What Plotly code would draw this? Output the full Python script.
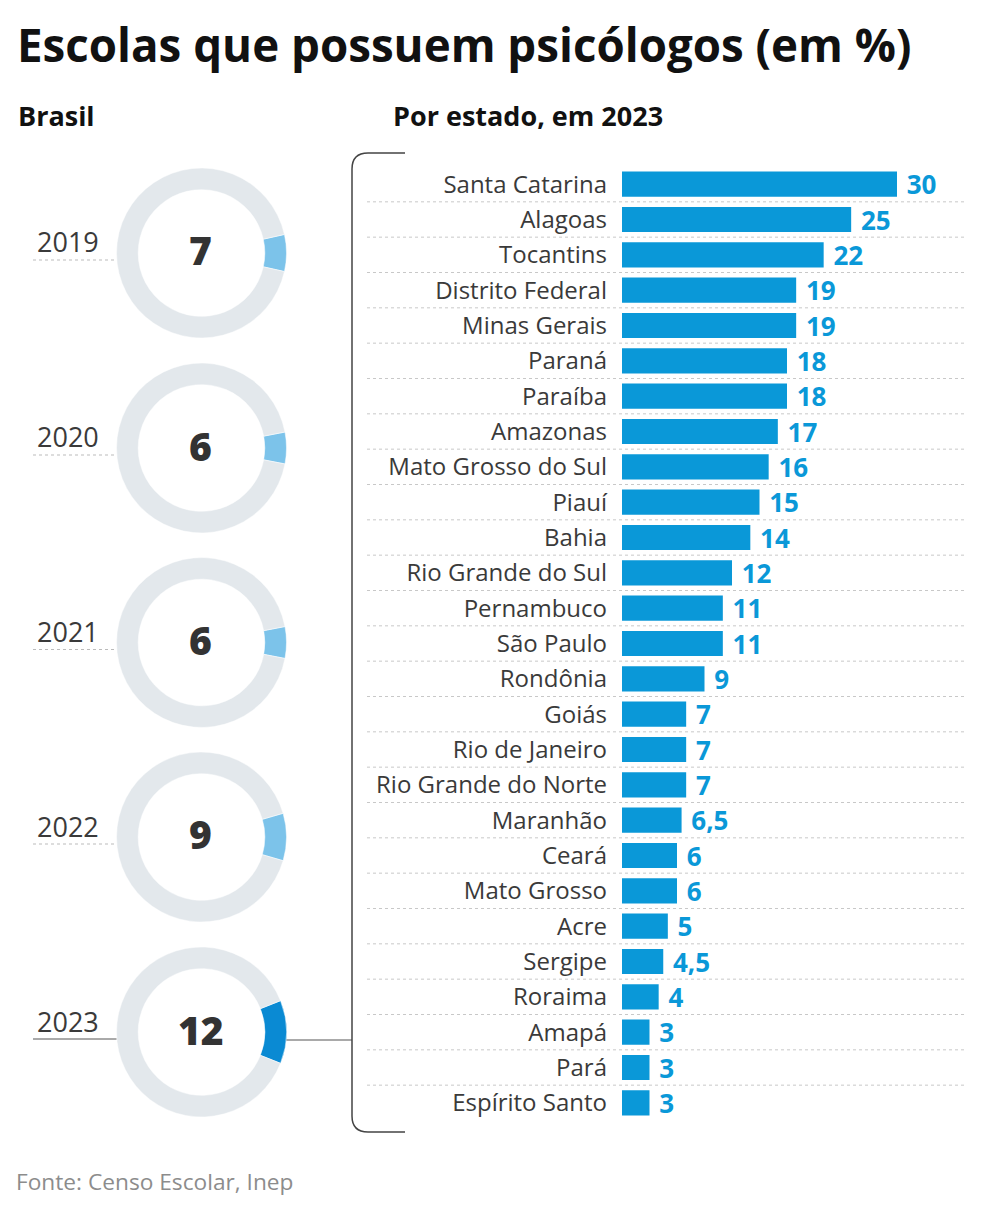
import plotly.graph_objects as go

W, H = 984, 1210

# ---------------- data ----------------
states = ["Santa Catarina", "Alagoas", "Tocantins", "Distrito Federal", "Minas Gerais",
          "Paraná", "Paraíba", "Amazonas", "Mato Grosso do Sul", "Piauí", "Bahia",
          "Rio Grande do Sul", "Pernambuco", "São Paulo", "Rondônia", "Goiás",
          "Rio de Janeiro", "Rio Grande do Norte", "Maranhão", "Ceará", "Mato Grosso",
          "Acre", "Sergipe", "Roraima", "Amapá", "Pará", "Espírito Santo"]
state_values = [30, 25, 22, 19, 19, 18, 18, 17, 16, 15, 14, 12, 11, 11, 9, 7, 7, 7,
                6.5, 6, 6, 5, 4.5, 4, 3, 3, 3]

years = ["2019", "2020", "2021", "2022", "2023"]
brasil_values = [7, 6, 6, 9, 12]

title_text = "Escolas que possuem psicólogos (em %)"
left_header = "Brasil"
right_header = "Por estado, em 2023"
source_text = "Fonte: Censo Escolar, Inep"

# ---------------- style ----------------
BAR_BLUE = "#0a98d8"
LIGHT_BLUE = "#7cc3ea"
DARK_BLUE = "#0a8ad3"
RING_GRAY = "#e3e8ec"
TEXT_DARK = "#333333"
FONT = "Open Sans"


def px(x):
    return x / W


def py(y):
    return 1 - y / H


def fmt(v):
    return ("%g" % v).replace(".", ",")


fig = go.Figure()

# ---------------- bar chart ----------------
n = len(states)
row_top, row_bot = 166.5, 1120.5
fig.add_trace(go.Bar(
    x=state_values, y=states, orientation="h",
    marker=dict(color=BAR_BLUE, line=dict(width=0)),
    width=0.71,
    text=["\u00a0" + fmt(v) for v in state_values],
    textposition="outside",
    textfont=dict(family=FONT, size=26, color=BAR_BLUE, weight=700),
    constraintext="none",
    cliponaxis=False,
    hoverinfo="skip",
    showlegend=False,
))

fig.update_xaxes(domain=[px(622), px(965)], range=[0, 343 / (275 / 30)],
                 visible=False, fixedrange=True)
fig.update_yaxes(domain=[py(row_bot), py(row_top)], range=[n - 0.5, -0.5],
                 type="category", categoryorder="array", categoryarray=states,
                 showgrid=False, zeroline=False, showline=False,
                 ticks="", ticklabelstandoff=14,
                 tickfont=dict(family=FONT, size=24, color="#3a3a3a"),
                 fixedrange=True)

shapes = []
# dotted separators between rows
for i in range(n - 1):
    shapes.append(dict(type="line", xref="paper", yref="y",
                       x0=px(367), x1=px(965), y0=i + 0.5, y1=i + 0.5,
                       line=dict(color="#c8c8c8", width=1, dash="dot")))

# ---------------- donuts ----------------
cx = 201.5
centers = [253, 448, 642.5, 837, 1032]
R = 85
annotations = []
for k, (yr, v) in enumerate(zip(years, brasil_values)):
    cy = centers[k]
    last = k == len(years) - 1
    col = DARK_BLUE if last else LIGHT_BLUE
    fig.add_trace(go.Pie(
        values=[v, 100 - v], labels=["Com psicólogo", "Sem psicólogo"],
        hole=0.745, sort=False, direction="clockwise",
        rotation=90 - v * 1.8,
        marker=dict(colors=[col, RING_GRAY], line=dict(color="white", width=0.5)),
        textinfo="none", hoverinfo="skip", showlegend=False,
        domain=dict(x=[px(cx - R), px(cx + R)], y=[py(cy + R), py(cy - R)]),
    ))
    annotations.append(dict(x=px(cx - 1), y=py(cy - 3), xref="paper", yref="paper",
                            text=fmt(v), showarrow=False, xanchor="center",
                            yanchor="middle",
                            font=dict(family=FONT, size=39, color=TEXT_DARK, weight=800)))
    annotations.append(dict(x=px(35), y=py(cy - 11), xref="paper", yref="paper",
                            text=yr, showarrow=False, xanchor="left", yanchor="middle",
                            font=dict(family=FONT, size=27, color="#3a3a3a")))
    shapes.append(dict(type="line", xref="paper", yref="paper",
                       x0=px(33), x1=px(cx - R), y0=py(cy + 7), y1=py(cy + 7),
                       line=dict(color="#555555" if last else "#bbbbbb", width=1,
                                 dash="solid" if last else "dot")))
    if last:
        shapes.append(dict(type="line", xref="paper", yref="paper",
                           x0=px(cx + R), x1=px(352), y0=py(cy + 8), y1=py(cy + 8),
                           line=dict(color="#555555", width=1)))

# bracket
bx, btop, bbot, bend, rr = 352, 153, 1132, 405, 16
path = (f"M {px(bend)} {py(btop)} L {px(bx + rr)} {py(btop)} "
        f"Q {px(bx)} {py(btop)} {px(bx)} {py(btop + rr)} "
        f"L {px(bx)} {py(bbot - rr)} "
        f"Q {px(bx)} {py(bbot)} {px(bx + rr)} {py(bbot)} "
        f"L {px(bend)} {py(bbot)}")
shapes.append(dict(type="path", xref="paper", yref="paper", path=path,
                   line=dict(color="#444444", width=1.5)))

# ---------------- texts ----------------
annotations += [
    dict(x=px(15), y=py(44), xref="paper", yref="paper", text=title_text,
         showarrow=False, xanchor="left", yanchor="middle",
         font=dict(family=FONT, size=45.7, color="#111111", weight=700)),
    dict(x=px(16), y=py(115), xref="paper", yref="paper", text=left_header,
         showarrow=False, xanchor="left", yanchor="middle",
         font=dict(family=FONT, size=27, color="#111111", weight=700)),
    dict(x=px(391), y=py(115), xref="paper", yref="paper", text=right_header,
         showarrow=False, xanchor="left", yanchor="middle",
         font=dict(family=FONT, size=27, color="#111111", weight=700)),
    dict(x=px(14), y=py(1181), xref="paper", yref="paper", text=source_text,
         showarrow=False, xanchor="left", yanchor="middle",
         font=dict(family=FONT, size=22.7, color="#8c8c8c")),
]

fig.update_layout(
    width=W, height=H, margin=dict(l=0, r=0, t=0, b=0),
    paper_bgcolor="white", plot_bgcolor="white",
    shapes=shapes, annotations=annotations,
    bargap=0.29,
)

fig.write_html("out.html", config={"displayModeBar": False})
